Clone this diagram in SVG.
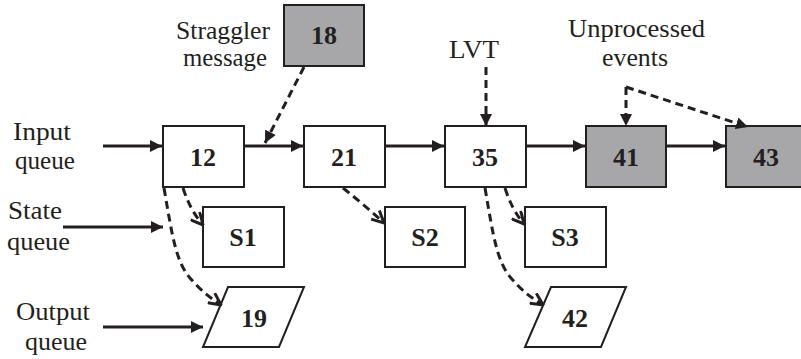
<svg xmlns="http://www.w3.org/2000/svg" width="801" height="359" viewBox="0 0 801 359">
<style>
.box{fill:#ffffff;stroke:#231f20;stroke-width:2}
.gray{fill:#a7a7a9;stroke:#231f20;stroke-width:2}
.lbl{font-family:'Times New Roman','Liberation Serif',Tinos,serif;font-size:25px;fill:#231f20}
.num{font-family:'Times New Roman','Liberation Serif',Tinos,serif;font-size:26px;font-weight:bold;fill:#231f20;text-anchor:middle}
.solid{fill:none;stroke:#231f20;stroke-width:3;marker-end:url(#fill)}
.dash{fill:none;stroke:#231f20;stroke-width:3;stroke-dasharray:8,5}
.dfill{marker-end:url(#fill)}
.dopen{marker-end:url(#open)}
</style>
<defs>
<marker id="fill" viewBox="0 0 12 12" refX="12" refY="6" markerWidth="12" markerHeight="12" markerUnits="userSpaceOnUse" orient="auto">
<path d="M0,0 L12,6 L0,12 Z" fill="#231f20"/>
</marker>
<marker id="open" viewBox="0 0 14 14" refX="13" refY="7" markerWidth="14" markerHeight="14" markerUnits="userSpaceOnUse" orient="auto">
<path d="M1,1 L13,7 L1,13" fill="none" stroke="#231f20" stroke-width="3"/>
</marker>
</defs>

<g id="labels">
<text class="lbl" x="176" y="39" textLength="94" lengthAdjust="spacingAndGlyphs">Straggler</text>
<text class="lbl" x="183" y="66" textLength="84" lengthAdjust="spacingAndGlyphs">message</text>
<text class="lbl" x="13" y="140" textLength="58" lengthAdjust="spacingAndGlyphs">Input</text>
<text class="lbl" x="15" y="169" textLength="60" lengthAdjust="spacingAndGlyphs">queue</text>
<text class="lbl" x="8" y="219" textLength="54" lengthAdjust="spacingAndGlyphs">State</text>
<text class="lbl" x="7" y="250" textLength="63" lengthAdjust="spacingAndGlyphs">queue</text>
<text class="lbl" x="16" y="320" textLength="74" lengthAdjust="spacingAndGlyphs">Output</text>
<text class="lbl" x="25" y="350" textLength="62" lengthAdjust="spacingAndGlyphs">queue</text>
<text class="lbl" x="449" y="58" textLength="50" lengthAdjust="spacingAndGlyphs">LVT</text>
<text class="lbl" x="568" y="37" textLength="137" lengthAdjust="spacingAndGlyphs">Unprocessed</text>
<text class="lbl" x="602" y="66" textLength="66" lengthAdjust="spacingAndGlyphs">events</text>
</g>

<g id="n18"><rect class="gray" x="284" y="5" width="80" height="61"/><text class="num" x="324" y="44">18</text></g>
<g id="n12"><rect class="box" x="163" y="126" width="81" height="61"/><text class="num" x="203" y="166">12</text></g>
<g id="n21"><rect class="box" x="304" y="126" width="81" height="61"/><text class="num" x="344" y="166">21</text></g>
<g id="n35"><rect class="box" x="445" y="126" width="81" height="61"/><text class="num" x="485" y="166">35</text></g>
<g id="n41"><rect class="gray" x="586" y="126" width="80" height="61"/><text class="num" x="626" y="166">41</text></g>
<g id="n43"><rect class="gray" x="726" y="126" width="80" height="61"/><text class="num" x="766" y="166">43</text></g>
<g id="nS1"><rect class="box" x="203" y="207" width="81" height="60"/><text class="num" x="243" y="246">S1</text></g>
<g id="nS2"><rect class="box" x="385" y="207" width="80" height="60"/><text class="num" x="425" y="246">S2</text></g>
<g id="nS3"><rect class="box" x="525" y="207" width="81" height="60"/><text class="num" x="565" y="246">S3</text></g>
<g id="n19"><polygon class="box" points="228,287 304,287 279,347 203,347"/><text class="num" x="254" y="327">19</text></g>
<g id="n42"><polygon class="box" points="551,287 626,287 601,347 525,347"/><text class="num" x="575" y="327">42</text></g>

<g id="connectors">
<path class="solid" d="M103,146 L162,146"/>
<path class="solid" d="M244,146 L303,146"/>
<path class="solid" d="M385,146 L444,146"/>
<path class="solid" d="M526,146 L585,146"/>
<path class="solid" d="M666,146 L725,146"/>
<path class="solid" d="M63,227 L163,227"/>
<path class="solid" d="M103,327 L203,327"/>
<path class="dash dfill" d="M304,67 L265,143"/>
<path class="dash dfill" d="M486,67 L486,126"/>
<path class="dash dfill" d="M626,87 L626,126"/>
<path class="dash dfill" d="M626,87 L748,127"/>
<path class="dash dopen" d="M183,188 Q190,210 203,225"/>
<path class="dash dopen" d="M343,188 Q368,208 384,223"/>
<path class="dash dopen" d="M505,188 Q512,210 524,224"/>
<path class="dash dopen" d="M164,188 C172,235 176,262 190,278 S210,297 221,305"/>
<path class="dash dopen" d="M485,188 C493,235 497,262 511,278 S531,297 543,305"/>
</g>
</svg>
